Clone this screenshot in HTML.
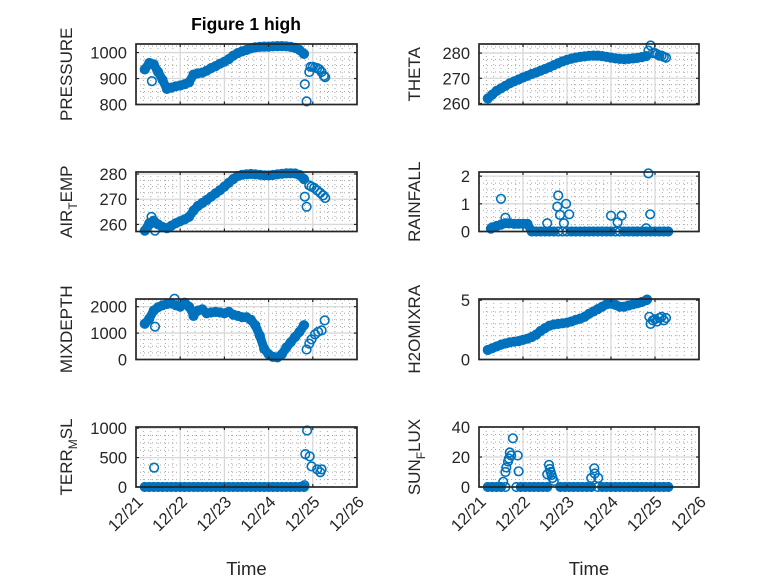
<!DOCTYPE html>
<html><head><meta charset="utf-8"><style>
body{margin:0;background:#fff;}
svg{display:block;font-family:"Liberation Sans",sans-serif;}
</style></head><body>
<svg id="fig" width="778" height="583" viewBox="0 0 778 583"></svg>
<script>
const NS='http://www.w3.org/2000/svg';
const svg=document.getElementById('fig');
// ---- data (days since 12/21 00:00) ----
const xTickLabels=['12/21','12/22','12/23','12/24','12/25','12/26'];
const denseT=[0.2,0.3,0.4,0.5,0.6,0.7,0.8,0.9,1.0,1.1,1.2,1.3,1.4,1.5,1.6,1.7,1.8,1.9,2.0,2.1,2.2,2.3,2.4,2.5,2.6,2.7,2.8,2.9,3.0,3.1,3.2,3.3,3.4,3.5,3.6,3.7,3.8];
const pressureV=[935,960,955,925,895,860,865,870,873,878,885,915,920,923,930,940,948,957,965,975,988,998,1005,1010,1016,1020,1022,1023,1023,1024,1025,1025,1024,1022,1018,1010,995];
const pressureExtraT=[0.36,3.82,3.86,3.92,3.95,4.0,4.05,4.1,4.15,4.2,4.25,4.28];
const pressureExtraV=[890,878,812,925,945,945,942,940,935,925,910,905];
const thetaV=[262,263.5,265,266,267,268,268.8,269.5,270.3,271,271.7,272.3,273,273.7,274.4,275.2,276,276.7,277.3,277.8,278.2,278.5,278.7,278.9,279,279,278.8,278.5,278.2,277.9,277.7,277.6,277.7,277.9,278.1,278.4,278.8];
const thetaExtraT=[3.85,3.9,3.95,4.0,4.05,4.1,4.15,4.2,4.25];
const thetaExtraV=[281,283,280,280,279.5,279,279,278.5,278.2];
const airV=[257.5,260.5,261.5,260,259,258.5,259.5,260.5,261.3,262,263,265.5,267.3,268.5,269.7,271,272.3,273.6,275,276.5,278,279.2,279.7,279.9,280,279.9,279.7,279.5,279.4,279.6,279.9,280.1,280.3,280.3,280.2,279.6,278];
const airExtraT=[0.43,0.35,3.82,3.86,3.92,3.97,4.03,4.1,4.17,4.23,4.28];
const airExtraV=[257.5,263,271,267,275.5,275,274.5,273.5,272.5,271.5,270.5];
const mixV=[1350,1550,1850,1980,2050,2100,2120,2050,2000,2150,2000,1700,1850,1900,1750,1780,1800,1780,1750,1800,1700,1650,1600,1600,1500,1300,900,400,200,100,80,200,450,650,850,1050,1300];
const mixExtraT=[0.43,0.87,1.3,3.86,3.92,3.97,4.05,4.12,4.2,4.27];
const mixExtraV=[1240,2300,1650,380,600,760,950,1050,1100,1480];
const h2oV=[0.8,0.95,1.1,1.25,1.35,1.45,1.5,1.55,1.65,1.75,1.9,2.1,2.4,2.65,2.85,2.95,3.0,3.05,3.1,3.2,3.35,3.45,3.6,3.85,4.05,4.25,4.45,4.65,4.7,4.6,4.45,4.45,4.55,4.65,4.75,4.85,5.0];
const h2oExtraT=[3.82,3.87,3.9,3.95,4.0,4.05,4.1,4.15,4.2,4.25];
const h2oExtraV=[5.05,3.6,3.0,3.3,3.4,3.2,3.5,3.6,3.3,3.5];
const rainT=[0.27,0.3,0.4,0.5,0.6,0.7,0.8,0.9,1.0,1.1,1.2,1.3,1.4,1.5,1.6,1.7,1.8,1.9,2.0,2.1,2.2,2.3,2.4,2.5,2.6,2.7,2.8,2.9,3.0,3.1,3.2,3.3,3.4,3.5,3.6,3.7,3.8,3.9,4.0,4.1,4.2,4.3,0.5,0.6,1.8,1.78,1.84,1.98,2.05,1.93,1.55,3.0,3.24,3.15,3.85,3.89,3.8];
const rainV=[0.1,0.15,0.2,0.25,0.3,0.3,0.28,0.28,0.28,0.28,0,0,0,0,0,0,0,0,0,0,0,0,0,0,0,0,0,0,0,0,0,0,0,0,0,0,0,0,0,0,0,0,1.18,0.5,1.3,0.9,0.6,1.0,0.62,0.3,0.3,0.57,0.57,0.33,2.1,0.62,0.12];
const terrT=[0.2,0.3,0.4,0.5,0.6,0.7,0.8,0.9,1.0,1.1,1.2,1.3,1.4,1.5,1.6,1.7,1.8,1.9,2.0,2.1,2.2,2.3,2.4,2.5,2.6,2.7,2.8,2.9,3.0,3.1,3.2,3.3,3.4,3.5,3.6,3.7,3.8,0.41,3.87,3.83,3.93,3.97,4.1,4.17,4.2,3.81];
const terrV=[0,0,0,0,0,0,0,0,0,0,0,0,0,0,0,0,0,0,0,0,0,0,0,0,0,0,0,0,0,0,0,0,0,0,0,0,0,330,960,560,520,350,300,250,300,30];
const sunT=[0.2,0.3,0.4,0.5,0.6,0.85,0.95,1.05,1.15,1.25,1.35,1.45,1.55,1.85,1.95,2.05,2.15,2.25,2.35,2.45,2.55,2.7,2.8,2.9,3.0,3.1,3.2,3.3,3.4,3.5,3.6,3.7,3.8,3.9,4.0,4.1,4.2,4.3,0.55,0.6,0.62,0.66,0.68,0.7,0.73,0.77,0.88,0.9,1.55,1.59,1.61,1.63,1.65,1.67,1.7,2.55,2.62,2.63,2.71];
const sunV=[0,0,0,0,0,0,0,0,0,0,0,0,0,0,0,0,0,0,0,0,0,0,0,0,0,0,0,0,0,0,0,0,0,0,0,0,0,0,3.5,10,13,17,19,23,21,32.5,21,10.5,8.5,14.7,12,10,8,6,4,6,12.5,9,6];

const BLUE='#0072BD';
function el(tag,attrs,parent){const e=document.createElementNS(NS,tag);for(const k in attrs)e.setAttribute(k,attrs[k]);(parent||svg).appendChild(e);return e;}

function panel(cfg){
  const g=el('g',{});
  
  
  const L=cfg.x0,R=cfg.x1,T=cfg.y0,B=cfg.y1;
  const sx=d=>L+(R-L)*d/5;
  const sy=v=>B-(B-T)*(v-cfg.ymin)/(cfg.ymax-cfg.ymin);
  for(let i=0;i<30;i++){ if(i%6===0)continue; const x=sx(i/6);
    el('line',{x1:x,x2:x,y1:T,y2:B,stroke:'#a8a8a8','stroke-width':1,'stroke-dasharray':'1,3'},g);}
  const mstep=(cfg.ticks[1]-cfg.ticks[0])/cfg.minorN;
  let v0=Math.ceil(cfg.ymin/mstep)*mstep;
  for(let v=v0;v<cfg.ymax;v+=mstep){ if(cfg.ticks.some(t=>Math.abs(t-v)<1e-9))continue; const y=sy(v);
    el('line',{x1:L,x2:R,y1:y,y2:y,stroke:'#a8a8a8','stroke-width':1,'stroke-dasharray':'1,3'},g);}
  for(let i=1;i<5;i++){const x=sx(i);el('line',{x1:x,x2:x,y1:T,y2:B,stroke:'#d8d8d8','stroke-width':1.3},g);}
  cfg.ticks.forEach(t=>{const y=sy(t);if(y>T+1&&y<B-1)el('line',{x1:L,x2:R,y1:y,y2:y,stroke:'#d8d8d8','stroke-width':1.3},g);});
  const series=el('g',{},g);
  
  
  const pts=cfg.t.map((t,i)=>[t,cfg.v[i]]);
  if(cfg.band){
    const d=cfg.band.t.map((t,i)=>(i?'L':'M')+sx(t).toFixed(1)+','+sy(cfg.band.v[i]).toFixed(1)).join('');
    el('path',{d:d,fill:'none',stroke:BLUE,'stroke-width':9,'stroke-linecap':'round','stroke-linejoin':'round'},series);
  }
  if(cfg.zeroBand){
    const s=pts.slice().sort((a,b)=>a[0]-b[0]);
    for(let i=1;i<s.length;i++){ if(s[i][1]===0&&s[i-1][1]===0&&s[i][0]-s[i-1][0]<=0.16){
      el('line',{x1:sx(s[i-1][0]),x2:sx(s[i][0]),y1:sy(0),y2:sy(0),stroke:BLUE,'stroke-width':9,'stroke-linecap':'round'},series);}}
  }
  pts.forEach(p=>{
    const c=el('circle',{cx:sx(p[0]).toFixed(1),cy:sy(p[1]).toFixed(1),r:4.3,fill:'none',stroke:BLUE,'stroke-width':1.6},series);
    
    
  });
  el('rect',{x:L,y:T,width:R-L,height:B-T,fill:'none',stroke:'#262626','stroke-width':1.7},g);
  for(let i=1;i<5;i++){const x=sx(i);
    el('line',{x1:x,x2:x,y1:B,y2:B-3,stroke:'#262626','stroke-width':1.2},g);
    el('line',{x1:x,x2:x,y1:T,y2:T+3,stroke:'#262626','stroke-width':1.2},g);}
  cfg.ticks.forEach(t=>{const y=sy(t);
    el('line',{x1:L,x2:L+3,y1:y,y2:y,stroke:'#262626','stroke-width':1.2},g);
    el('line',{x1:R,x2:R-3,y1:y,y2:y,stroke:'#262626','stroke-width':1.2},g);
    const tx=el('text',{x:L-9,y:y+6,'text-anchor':'end','font-size':16.5,fill:'#262626'},g);
    tx.textContent=String(t);
    
    
  });
  const yl=el('text',{x:0,y:0,'text-anchor':'middle','font-size':17,fill:'#262626',transform:`translate(${cfg.labX},${(T+B)/2}) rotate(-90)`},g);
  
  
  if(cfg.sub){
    const a=el('tspan',{},yl);a.textContent=cfg.label[0];
    const b=el('tspan',{dy:5,'font-size':12},yl);b.textContent=cfg.label[1];
    const c=el('tspan',{dy:-5},yl);c.textContent=cfg.label[2];
  } else yl.textContent=cfg.label;
  if(cfg.xlabels){
    xTickLabels.forEach((lb,i)=>{
      const x=sx(i)+8;
      const tx=el('text',{x:0,y:0,'text-anchor':'end','font-size':16.5,fill:'#262626',transform:`translate(${x},${B+16}) rotate(-45)`},g);
      tx.textContent=lb;
      
      
    });
    const xt=el('text',{x:(L+R)/2,y:575,'text-anchor':'middle','font-size':18.5,fill:'#262626'},g);
    xt.textContent='Time';
    
    
  }
}
const LX=[136,357],RX=[479,699];
const rows=[[44,104.5],[172,231.5],[299,359.5],[427,487]];
panel({name:'pressure',x0:LX[0],x1:LX[1],y0:rows[0][0],y1:rows[0][1],ymin:800,ymax:1033,ticks:[800,900,1000],minorN:4,label:'PRESSURE',labX:72,
  t:denseT.concat(pressureExtraT),v:pressureV.concat(pressureExtraV),band:{t:denseT,v:pressureV}});
panel({name:'theta',x0:RX[0],x1:RX[1],y0:rows[0][0],y1:rows[0][1],ymin:259.6,ymax:283.6,ticks:[260,270,280],minorN:4,label:'THETA',labX:420,
  t:denseT.concat(thetaExtraT),v:thetaV.concat(thetaExtraV),band:{t:denseT,v:thetaV}});
panel({name:'air-temp',x0:LX[0],x1:LX[1],y0:rows[1][0],y1:rows[1][1],ymin:257.2,ymax:280.8,ticks:[260,270,280],minorN:4,label:['AIR','T','EMP'],sub:true,labX:72,
  t:denseT.concat(airExtraT),v:airV.concat(airExtraV),band:{t:denseT,v:airV}});
panel({name:'rainfall',x0:RX[0],x1:RX[1],y0:rows[1][0],y1:rows[1][1],ymin:0,ymax:2.15,ticks:[0,1,2],minorN:4,label:'RAINFALL',labX:420,
  t:rainT,v:rainV,zeroBand:true,band:{t:rainT.slice(0,11),v:rainV.slice(0,11)}});
panel({name:'mixdepth',x0:LX[0],x1:LX[1],y0:rows[2][0],y1:rows[2][1],ymin:0,ymax:2290,ticks:[0,1000,2000],minorN:4,label:'MIXDEPTH',labX:72,
  t:denseT.concat(mixExtraT),v:mixV.concat(mixExtraV),band:{t:denseT,v:mixV}});
panel({name:'h2omixra',x0:RX[0],x1:RX[1],y0:rows[2][0],y1:rows[2][1],ymin:0,ymax:5.1,ticks:[0,5],minorN:5,label:'H2OMIXRA',labX:420,
  t:denseT.concat(h2oExtraT),v:h2oV.concat(h2oExtraV),band:{t:denseT,v:h2oV}});
panel({name:'terr-msl',x0:LX[0],x1:LX[1],y0:rows[3][0],y1:rows[3][1],ymin:0,ymax:1020,ticks:[0,500,1000],minorN:4,label:['TERR','M','SL'],sub:true,labX:72,
  t:terrT,v:terrV,zeroBand:true,xlabels:true});
panel({name:'sun-flux',x0:RX[0],x1:RX[1],y0:rows[3][0],y1:rows[3][1],ymin:0,ymax:40,ticks:[0,20,40],minorN:4,label:['SUN','F','LUX'],sub:true,labX:420,
  t:sunT,v:sunV,zeroBand:true,xlabels:true});
const title=el('text',{x:246,y:30,'text-anchor':'middle','font-size':17.5,'font-weight':'bold',fill:'#000'});
title.textContent='Figure 1 high';


</script>
</body></html>
